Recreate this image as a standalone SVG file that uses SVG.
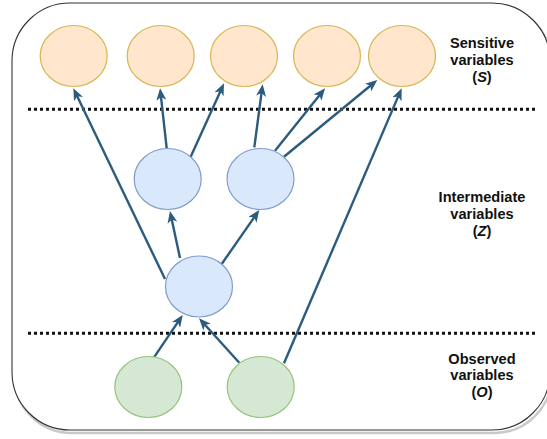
<svg xmlns="http://www.w3.org/2000/svg" width="547" height="439" viewBox="0 0 547 439">
<style>
.orange ellipse{fill:#ffe6cc;stroke:#d6b656;stroke-width:1.2}
.blue ellipse{fill:#dae8fc;stroke:#7f9dc9;stroke-width:1.2}
.green ellipse{fill:#d5e8d4;stroke:#97c27a;stroke-width:1.2}
.edge{stroke:#2b5b7e;stroke-width:2.4;fill:none;marker-end:url(#arr)}
.sep{stroke:#111;stroke-width:3;stroke-dasharray:3 3}
.lbl{font-family:"Liberation Sans",Arial,sans-serif;font-weight:bold;font-size:14.6px;fill:#111;text-anchor:middle}
</style>
<defs>
<marker id="arr" viewBox="0 0 12 10" markerWidth="12" markerHeight="10" refX="7" refY="5" orient="auto" markerUnits="userSpaceOnUse">
<path d="M0,0 L12,5 L0,10 L3.2,5 Z" fill="#2b5b7e"/>
</marker>
</defs>
<rect x="14" y="6" width="538" height="427" rx="58" ry="58" fill="none" stroke="#888" stroke-opacity="0.45" stroke-width="2.5"/>
<rect id="frame" x="12" y="3" width="538" height="427" rx="58" ry="58" fill="#fff" stroke="#333" stroke-width="1.1"/>
<line class="sep" x1="28" y1="109.3" x2="536" y2="109.3"/>
<line class="sep" x1="28" y1="333.3" x2="536" y2="333.3"/>
<g id="connectors">
<line class="edge" x1="165" y1="279" x2="75.5" y2="92.8"/>
<line class="edge" x1="166.7" y1="148.3" x2="160.6" y2="93.3"/>
<line class="edge" x1="190.7" y1="156.7" x2="221.9" y2="87.9"/>
<line class="edge" x1="254.3" y1="147.3" x2="262" y2="89.3"/>
<line class="edge" x1="275" y1="150.7" x2="321.9" y2="92.2"/>
<line class="edge" x1="284" y1="156.7" x2="373.4" y2="83.2"/>
<line class="edge" x1="284" y1="363.3" x2="399.7" y2="92.9"/>
<line class="edge" x1="180" y1="258" x2="171" y2="215.9"/>
<line class="edge" x1="221.7" y1="264" x2="256.4" y2="214.1"/>
<line class="edge" x1="154" y1="357.3" x2="179.9" y2="319.1"/>
<line class="edge" x1="239.3" y1="362.7" x2="202.4" y2="322"/>
</g>
<g id="s1" class="orange"><ellipse cx="73.7" cy="56" rx="33.5" ry="30.5"/></g>
<g id="s2" class="orange"><ellipse cx="160.7" cy="56" rx="33.5" ry="30.5"/></g>
<g id="s3" class="orange"><ellipse cx="244" cy="56" rx="33.5" ry="30.5"/></g>
<g id="s4" class="orange"><ellipse cx="327" cy="56" rx="33.5" ry="30.5"/></g>
<g id="s5" class="orange"><ellipse cx="402" cy="56" rx="33.5" ry="30.5"/></g>
<g id="z1" class="blue"><ellipse cx="167.7" cy="179" rx="33.5" ry="30.5"/></g>
<g id="z2" class="blue"><ellipse cx="260.5" cy="179" rx="33.5" ry="30.5"/></g>
<g id="z3" class="blue"><ellipse cx="199" cy="286.5" rx="33.5" ry="30.5"/></g>
<g id="o1" class="green"><ellipse cx="148.3" cy="387" rx="33.5" ry="30.5"/></g>
<g id="o2" class="green"><ellipse cx="260.7" cy="387" rx="33.5" ry="30.5"/></g>
<g id="label-s">
<text class="lbl" x="482" y="48">Sensitive</text>
<text class="lbl" x="482" y="65">variables</text>
<text class="lbl" x="482" y="82">(<tspan font-style="italic">S</tspan>)</text>
</g>
<g id="label-z">
<text class="lbl" x="482" y="202">Intermediate</text>
<text class="lbl" x="482" y="219">variables</text>
<text class="lbl" x="482" y="236">(<tspan font-style="italic">Z</tspan>)</text>
</g>
<g id="label-o">
<text class="lbl" x="482" y="363.5">Observed</text>
<text class="lbl" x="482" y="380">variables</text>
<text class="lbl" x="482" y="396.5">(<tspan font-style="italic">O</tspan>)</text>
</g>
</svg>
